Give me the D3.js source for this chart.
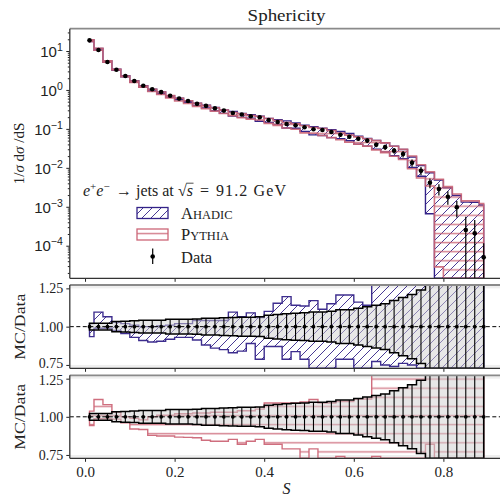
<!DOCTYPE html>
<html><head><meta charset="utf-8">
<script src="https://cdn.jsdelivr.net/npm/d3@7"></script>
<style>
html,body{margin:0;padding:0;background:#fff;}
svg{display:block;font-family:"Liberation Serif","DejaVu Serif",serif;}
</style></head><body>
<svg id="chart" width="500" height="498"></svg>
<script>
// Sphericity bin centres (bin width 0.02)
const binCenters = [0.01,0.03,0.05,0.07,0.09,0.11,0.13,0.15,0.17,0.19,0.21,0.23,0.25,0.27,0.29,
  0.31,0.33,0.35,0.37,0.39,0.41,0.43,0.45,0.47,0.49,0.51,0.53,0.55,0.57,0.59,
  0.61,0.63,0.65,0.67,0.69,0.71,0.73,0.75,0.77,0.79,0.81,0.83,0.85,0.87,0.89];

// Measured 1/sigma dsigma/dS
const dataValues = [18.8,10.6,5.2,3.3,2.28,1.70,1.28,1.04,0.88,0.71,0.60,0.52,0.44,0.39,0.34,
  0.295,0.257,0.235,0.212,0.199,0.169,0.150,0.134,0.124,0.110,0.0976,0.0936,0.083,0.071,0.063,
  0.056,0.050,0.039,0.034,0.0276,0.0227,0.01355,0.00844,0.00415,0.00286,0.00181,0.00097,0.000253,0.000208,0.0000503];

// Relative total uncertainty of the measurement
const dataRelErr = [0.022,0.022,0.022,0.033,0.035,0.038,0.042,0.042,0.042,0.048,0.048,0.048,0.05,0.055,0.055,
  0.058,0.06,0.062,0.062,0.065,0.075,0.08,0.085,0.088,0.09,0.095,0.095,0.1,0.11,0.11,
  0.12,0.13,0.14,0.15,0.17,0.19,0.21,0.24,0.28,0.32,0.38,0.45,1.2,1.2,1.3];

// Ahadic uncertainty band, as MC/Data
const ahadicLow = [0.935,0.99,0.99,0.975,0.955,0.93,0.91,0.90,0.905,0.918,0.93,0.93,0.913,0.88,0.86,
  0.85,0.83,0.84,0.89,0.787,0.87,0.87,0.787,0.837,0.787,0.72,0.72,0.72,0.787,0.787,
  0.72,0.72,0.772,0.75,0.74,0.76,0.75,0.72,0.16,0,0,0,0,0,0];
const ahadicHigh = [1.02,1.095,1.065,1.03,1.02,1.01,1.0,1.0,1.005,1.01,1.02,1.02,1.04,1.04,1.04,
  1.04,1.095,1.065,1.09,1.06,1.10,1.153,1.196,1.14,1.135,1.17,1.114,1.15,1.207,1.207,
  1.16,1.14,1.3,1.3,1.3,1.3,1.4,1.35,1.8,1.7,1.7,2.0,5.2,6.3,22];

// Pythia uncertainty band, as MC/Data
const pythiaLow = [0.943,0.987,0.987,0.985,0.96,0.92,0.917,0.878,0.874,0.874,0.867,0.865,0.863,0.846,0.84,
  0.84,0.852,0.82,0.84,0.852,0.82,0.82,0.79,0.79,0.72,0.79,0.72,0.72,0.74,0.72,
  0.72,0.72,0.74,0.72,0.72,0.72,0.7,0.65,0.82,0.01,0,0,0,0,0];
const pythiaHigh = [1.037,1.113,1.08,1.03,1.0,0.99,0.98,1.0,1.01,1.01,1.02,1.02,1.025,1.025,1.03,
  1.03,1.03,1.04,1.04,1.05,1.09,1.09,1.09,1.09,1.097,1.113,1.09,1.09,1.10,1.10,
  1.117,1.117,1.28,1.29,1.30,1.32,1.48,1.42,1.9,1.78,1.82,2.2,5.6,6.8,24];

const xTicks = [0, 0.2, 0.4, 0.6, 0.8];
const logTicks = [1e1, 1e0, 1e-1, 1e-2, 1e-3, 1e-4];
const logTickExp = ["1", "0", "−1", "−2", "−3", "−4"];
const ratioTicks = [0.75, 1.0, 1.25];

const BLUE = "#332288", RED = "#CC6677";

const svg = d3.select("#chart");
svg.append("rect").attr("width", 500).attr("height", 498).attr("fill", "#fff");

const X0 = 69.8, X1 = 503.4;
const x = d3.scaleLinear().domain([-0.034, 0.934]).range([X0, X1]);

const panels = {
  main: {top: 28.7, bottom: 278.3},
  r1: {top: 285, bottom: 368.3},
  r2: {top: 375.3, bottom: 458.3}
};
const yMain = d3.scaleLog().domain([Math.pow(10, -4.837), Math.pow(10, 1.573)])
  .range([panels.main.bottom, panels.main.top]).clamp(true);
const yR1 = d3.scaleLinear().domain([0.728, 1.272]).range([panels.r1.bottom, panels.r1.top]).clamp(true);
const yR2 = d3.scaleLinear().domain([0.728, 1.272]).range([panels.r2.bottom, panels.r2.top]).clamp(true);

const defs = svg.append("defs");
// hatching
const pb = defs.append("pattern").attr("id", "hatchBlue").attr("patternUnits", "userSpaceOnUse")
  .attr("width", 9).attr("height", 9);
pb.append("path").attr("d", "M-1,1 l2,-2 M0,9 l9,-9 M8,10 l2,-2")
  .attr("stroke", BLUE).attr("stroke-width", 0.9).attr("fill", "none");
const pr = defs.append("pattern").attr("id", "hatchRed").attr("patternUnits", "userSpaceOnUse")
  .attr("width", 9).attr("height", 9.1);
pr.append("line").attr("x1", 0).attr("x2", 9).attr("y1", 6).attr("y2", 6)
  .attr("stroke", RED).attr("stroke-width", 1.5).attr("stroke-opacity", 0.8);

Object.entries(panels).forEach(([k, p]) => {
  defs.append("clipPath").attr("id", "clip-" + k).append("rect")
    .attr("x", X0).attr("y", p.top).attr("width", X1 - X0).attr("height", p.bottom - p.top);
});

const idx = d3.range(binCenters.length);
const tiny = 1e-9;

// ---------- main panel ----------
const gMain = svg.append("g").attr("clip-path", "url(#clip-main)");

function mainBand(lo, hi) {
  return d3.area().curve(d3.curveStep)
    .x(i => x(binCenters[i]))
    .y0(i => yMain(Math.max(dataValues[i] * lo[i], tiny)))
    .y1(i => yMain(Math.max(dataValues[i] * hi[i], tiny)))(idx);
}
gMain.append("path").attr("d", mainBand(ahadicLow, ahadicHigh))
  .attr("fill", "url(#hatchBlue)").attr("stroke", BLUE).attr("stroke-width", 1.4);
gMain.append("path").attr("d", mainBand(pythiaLow, pythiaHigh))
  .attr("fill", "url(#hatchRed)").attr("stroke", RED).attr("stroke-width", 1.6).attr("stroke-opacity", 0.9);

gMain.selectAll("line.err").data(idx).join("line").attr("class", "err")
  .attr("x1", i => x(binCenters[i])).attr("x2", i => x(binCenters[i]))
  .attr("y1", i => yMain(Math.max(dataValues[i] * (1 - dataRelErr[i]), tiny)))
  .attr("y2", i => yMain(dataValues[i] * (1 + dataRelErr[i])))
  .attr("stroke", "#000").attr("stroke-width", 1.2);
gMain.selectAll("circle").data(idx).join("circle")
  .attr("cx", i => x(binCenters[i])).attr("cy", i => yMain(dataValues[i]))
  .attr("r", 2.3).attr("fill", "#000");

// ---------- ratio panels ----------
function ratioPanel(key, yS, lo, hi, pattern, color) {
  const p = panels[key];
  const g = svg.append("g").attr("clip-path", "url(#clip-" + key + ")");
  // shaded region outside the 0.75–1.25 window
  g.append("rect").attr("x", X0).attr("width", X1 - X0)
    .attr("y", p.top).attr("height", yS(1.25) - p.top).attr("fill", "#efefef");
  g.append("rect").attr("x", X0).attr("width", X1 - X0)
    .attr("y", yS(0.75)).attr("height", p.bottom - yS(0.75)).attr("fill", "#efefef");
  const area = d3.area().curve(d3.curveStep).x(i => x(binCenters[i]))
    .y0(i => yS(lo[i])).y1(i => yS(hi[i]));
  g.append("path").attr("d", area(idx)).attr("fill", pattern)
    .attr("stroke", color).attr("stroke-width", 1.4).attr("stroke-opacity", 0.95);
  const dArea = d3.area().curve(d3.curveStep).x(i => x(binCenters[i]))
    .y0(i => yS(1 - dataRelErr[i])).y1(i => yS(1 + dataRelErr[i]));
  g.append("path").attr("d", dArea(idx)).attr("fill", "#cfcfcf").attr("fill-opacity", 0.5)
    .attr("stroke", "#000").attr("stroke-width", 1.5);
  g.append("line").attr("x1", X0).attr("x2", X1).attr("y1", yS(1)).attr("y2", yS(1))
    .attr("stroke", "#000").attr("stroke-width", 1).attr("stroke-dasharray", "4,2.5");
  g.selectAll("line.err").data(idx).join("line").attr("class", "err")
    .attr("x1", i => x(binCenters[i])).attr("x2", i => x(binCenters[i]))
    .attr("y1", i => yS(1 - dataRelErr[i])).attr("y2", i => yS(1 + dataRelErr[i]))
    .attr("stroke", "#000").attr("stroke-width", 1.1);
  g.selectAll("circle").data(idx).join("circle")
    .attr("cx", i => x(binCenters[i])).attr("cy", yS(1)).attr("r", 1.9).attr("fill", "#000");
}
ratioPanel("r1", yR1, ahadicLow, ahadicHigh, "url(#hatchBlue)", BLUE);
ratioPanel("r2", yR2, pythiaLow, pythiaHigh, "url(#hatchRed)", RED);

// ---------- axes ----------
const axisColor = "#222";
function styleAxis(g) {
  g.select(".domain").remove();
  g.selectAll(".tick line").attr("stroke", axisColor).attr("stroke-width", 1);
  g.selectAll(".tick text").attr("fill", "#222").attr("font-size", 15)
    .attr("font-family", "Liberation Serif, DejaVu Serif, serif");
}
function spines(p) {
  svg.append("line").attr("x1", X0).attr("x2", X1).attr("y1", p.top).attr("y2", p.top)
    .attr("stroke", "#8a8a8a").attr("stroke-width", 1.8);
  svg.append("line").attr("x1", X0).attr("x2", X0).attr("y1", p.top).attr("y2", p.bottom)
    .attr("stroke", "#333").attr("stroke-width", 1.3);
  svg.append("line").attr("x1", X0).attr("x2", X1).attr("y1", p.bottom).attr("y2", p.bottom)
    .attr("stroke", "#333").attr("stroke-width", 1.3);
}

// main y axis (log) with minor ticks
const minor = [];
for (let e = -5; e <= 1; e++) for (let m = 2; m <= 9; m++) {
  const v = m * Math.pow(10, e);
  if (v > yMain.domain()[0] && v < yMain.domain()[1]) minor.push(v);
}
const gyMinor = svg.append("g").attr("transform", `translate(${X0},0)`)
  .call(d3.axisLeft(yMain).tickValues(minor).tickSize(2).tickFormat(""));
styleAxis(gyMinor);
const gy = svg.append("g").attr("transform", `translate(${X0},0)`)
  .call(d3.axisLeft(yMain).tickValues(logTicks).tickSize(3.5).tickPadding(3).tickFormat(() => ""));
styleAxis(gy);
gy.selectAll(".tick").each(function(d, k) {
  const t = d3.select(this).append("text").attr("x", -7).attr("dy", "0.35em")
    .attr("text-anchor", "end").attr("fill", "#222").attr("font-size", 15);
  t.append("tspan").text("10");
  t.append("tspan").attr("dy", -6).attr("font-size", 10.5).text(logTickExp[k]);
});

// ratio y axes
[["r1", yR1], ["r2", yR2]].forEach(([k, yS]) => {
  const g = svg.append("g").attr("transform", `translate(${X0},0)`)
    .call(d3.axisLeft(yS).tickValues(ratioTicks).tickSize(3.5).tickPadding(3).tickFormat(d3.format(".2f")));
  styleAxis(g);
  g.selectAll(".tick text").attr("font-size", 14)
    .attr("dy", d => d === 0.75 && k === "r1" ? "0.2em" : d === 1.25 && k === "r2" ? "0.42em" : "0.32em");
});

// x axes
["main", "r1", "r2"].forEach(k => {
  const p = panels[k];
  const ax = d3.axisBottom(x).tickValues(xTicks).tickSize(3.5).tickPadding(5);
  if (k !== "r2") ax.tickFormat("");
  else ax.tickFormat(d3.format(".1f"));
  const g = svg.append("g").attr("transform", `translate(0,${p.bottom})`).call(ax);
  styleAxis(g);
});

Object.values(panels).forEach(spines);

// ---------- labels ----------
svg.append("text").attr("x", (X0 + X1) / 2).attr("y", 21).attr("text-anchor", "middle")
  .attr("font-size", 17).attr("fill", "#222")
  .attr("textLength", 78).attr("lengthAdjust", "spacingAndGlyphs").text("Sphericity");

const yl = svg.append("text").attr("transform", `translate(24,${(panels.main.top + panels.main.bottom) / 2}) rotate(-90)`)
  .attr("text-anchor", "middle").attr("font-size", 15).attr("fill", "#222");
yl.append("tspan").text("1/");
yl.append("tspan").attr("font-style", "italic").text("σ");
yl.append("tspan").text(" d");
yl.append("tspan").attr("font-style", "italic").text("σ");
yl.append("tspan").text(" /dS");

["r1", "r2"].forEach(k => {
  const p = panels[k];
  svg.append("text").attr("transform", `translate(25,${(p.top + p.bottom) / 2}) rotate(-90)`)
    .attr("text-anchor", "middle").attr("font-size", 15).attr("fill", "#222")
    .attr("textLength", 66).attr("lengthAdjust", "spacingAndGlyphs").text("MC/Data");
});

svg.append("text").attr("x", x(0.45)).attr("y", 494).attr("text-anchor", "middle")
  .attr("font-size", 16).attr("font-style", "italic").attr("fill", "#222").text("S");

// ---------- legend ----------
const LFS = 16;
const lt = svg.append("text").attr("x", 83).attr("y", 196).attr("font-size", LFS).attr("fill", "#222");
lt.append("tspan").attr("font-style", "italic").text("e");
lt.append("tspan").attr("dy", -6).attr("font-size", 11).text("+");
lt.append("tspan").attr("dy", 6).attr("font-style", "italic").text("e");
lt.append("tspan").attr("dy", -6).attr("font-size", 11).text("−");
lt.append("tspan").attr("dy", 6).attr("x", 116).text("→");
lt.append("tspan").attr("x", 136).text("jets at");
lt.append("tspan").attr("x", 178).text("√");
lt.append("tspan").attr("font-style", "italic").text("s");
lt.append("tspan").attr("x", 200).text("=");
lt.append("tspan").attr("x", 216).attr("textLength", 70).attr("lengthAdjust", "spacing").text("91.2 GeV");
{
  const node = lt.node();
  const full = node.textContent;
  const iRoot = full.indexOf("√");
  const r = node.getExtentOfChar(iRoot), s = node.getExtentOfChar(iRoot + 1);
  svg.append("line").attr("x1", r.x + r.width - 0.5).attr("x2", s.x + s.width + 0.5)
    .attr("y1", r.y + 1.2).attr("y2", r.y + 1.2).attr("stroke", "#222").attr("stroke-width", 0.8);
}

const legendItems = [
  {label: ["A", "HADIC"], pattern: "url(#hatchBlue)", color: BLUE, y: 207.5},
  {label: ["P", "YTHIA"], pattern: "url(#hatchRed)", color: RED, y: 229}
];
legendItems.forEach(it => {
  svg.append("rect").attr("x", 137).attr("y", it.y).attr("width", 31).attr("height", 11)
    .attr("fill", it.pattern).attr("stroke", it.color).attr("stroke-width", 1.3);
  const t = svg.append("text").attr("x", 181).attr("y", it.y + 11).attr("font-size", 16.5).attr("fill", "#222");
  t.append("tspan").text(it.label[0]);
  t.append("tspan").attr("font-size", 12.5).text(it.label[1]);
});
svg.append("line").attr("x1", 152.7).attr("x2", 152.7).attr("y1", 248.5).attr("y2", 264)
  .attr("stroke", "#000").attr("stroke-width", 1.2);
svg.append("circle").attr("cx", 152.7).attr("cy", 256.5).attr("r", 2.3).attr("fill", "#000");
svg.append("text").attr("x", 181).attr("y", 262.5).attr("font-size", 16.5).attr("fill", "#222").text("Data");
</script>
</body></html>
